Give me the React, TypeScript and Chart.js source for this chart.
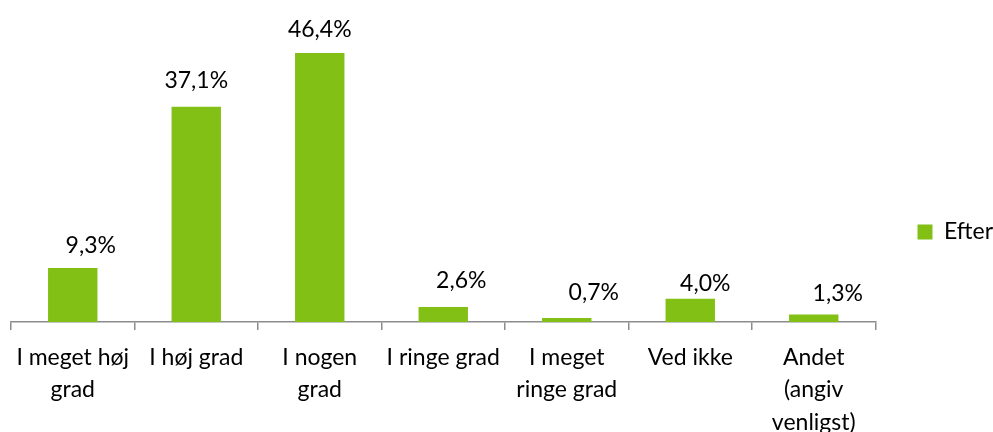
import React, { useEffect, useRef } from "react";
import { Chart, registerables } from "chart.js";

Chart.register(...registerables);

const categories: (string | string[])[] = [
  ["I meget høj", "grad"],
  "I høj grad",
  ["I nogen", "grad"],
  "I ringe grad",
  ["I meget", "ringe grad"],
  "Ved ikke",
  ["Andet", "(angiv", "venligst)"],
];
const seriesName = "Efter";
const values = [9.3, 37.1, 46.4, 2.6, 0.7, 4.0, 1.3];
const valueLabels = ["9,3%", "37,1%", "46,4%", "2,6%", "0,7%", "4,0%", "1,3%"];

// label placement tweaks (px), as positioned in the original
const labelDx = [18, 0, 0, 18, 27, 15, 24];
const labelGap = [15, 19, 16, 19, 18, 8, 13];

const FONT = "Lato, sans-serif";
const SIZE = 23;

const valueLabelPlugin = {
  id: "valueLabels",
  afterDatasetsDraw(chart: any) {
    const ctx = chart.ctx;
    const meta = chart.getDatasetMeta(0);
    ctx.save();
    ctx.font = `${SIZE}px ${FONT}`;
    ctx.fillStyle = "#000";
    ctx.textAlign = "center";
    ctx.textBaseline = "alphabetic";
    meta.data.forEach((bar: any, i: number) => {
      ctx.fillText(valueLabels[i], bar.x + labelDx[i], bar.y - labelGap[i]);
    });
    ctx.restore();
  },
};

export default function App() {
  const ref = useRef<HTMLCanvasElement>(null);
  useEffect(() => {
    if (!ref.current) return;
    const chart = new Chart(ref.current, {
      type: "bar",
      data: {
        labels: categories,
        datasets: [
          {
            label: seriesName,
            data: values,
            backgroundColor: "#82c015",
            barPercentage: 0.4,
            categoryPercentage: 1,
          },
        ],
      },
      options: {
        animation: false,
        responsive: false,
        maintainAspectRatio: false,
        layout: { padding: { left: 11, top: 32, right: -10, bottom: 0 } },
        scales: {
          y: { display: false, min: 0, max: 50 },
          x: {
            afterFit: (scale: any) => {
              scale.height = 110;
            },
            border: { color: "#8c8c8c", width: 1.5 },
            grid: {
              offset: true,
              drawOnChartArea: false,
              drawTicks: true,
              tickLength: 8,
              color: "#8c8c8c",
              lineWidth: 1.5,
            },
            ticks: {
              color: "#000",
              font: { family: FONT, size: SIZE, lineHeight: 1.42 },
              padding: 11,
              maxRotation: 0,
              autoSkip: false,
            },
          },
        },
        plugins: {
          legend: {
            position: "right",
            labels: {
              boxWidth: 15,
              boxHeight: 15,
              color: "#000",
              font: { family: FONT, size: SIZE },
              padding: 42,
            },
          },
          tooltip: { enabled: false },
        },
      },
      plugins: [valueLabelPlugin],
    });
    return () => chart.destroy();
  }, []);
  return (
    <div style={{ position: "fixed", left: 0, top: 0, width: 993, height: 432, background: "#fff" }}>
      <canvas ref={ref} width={993} height={432} />
    </div>
  );
}
